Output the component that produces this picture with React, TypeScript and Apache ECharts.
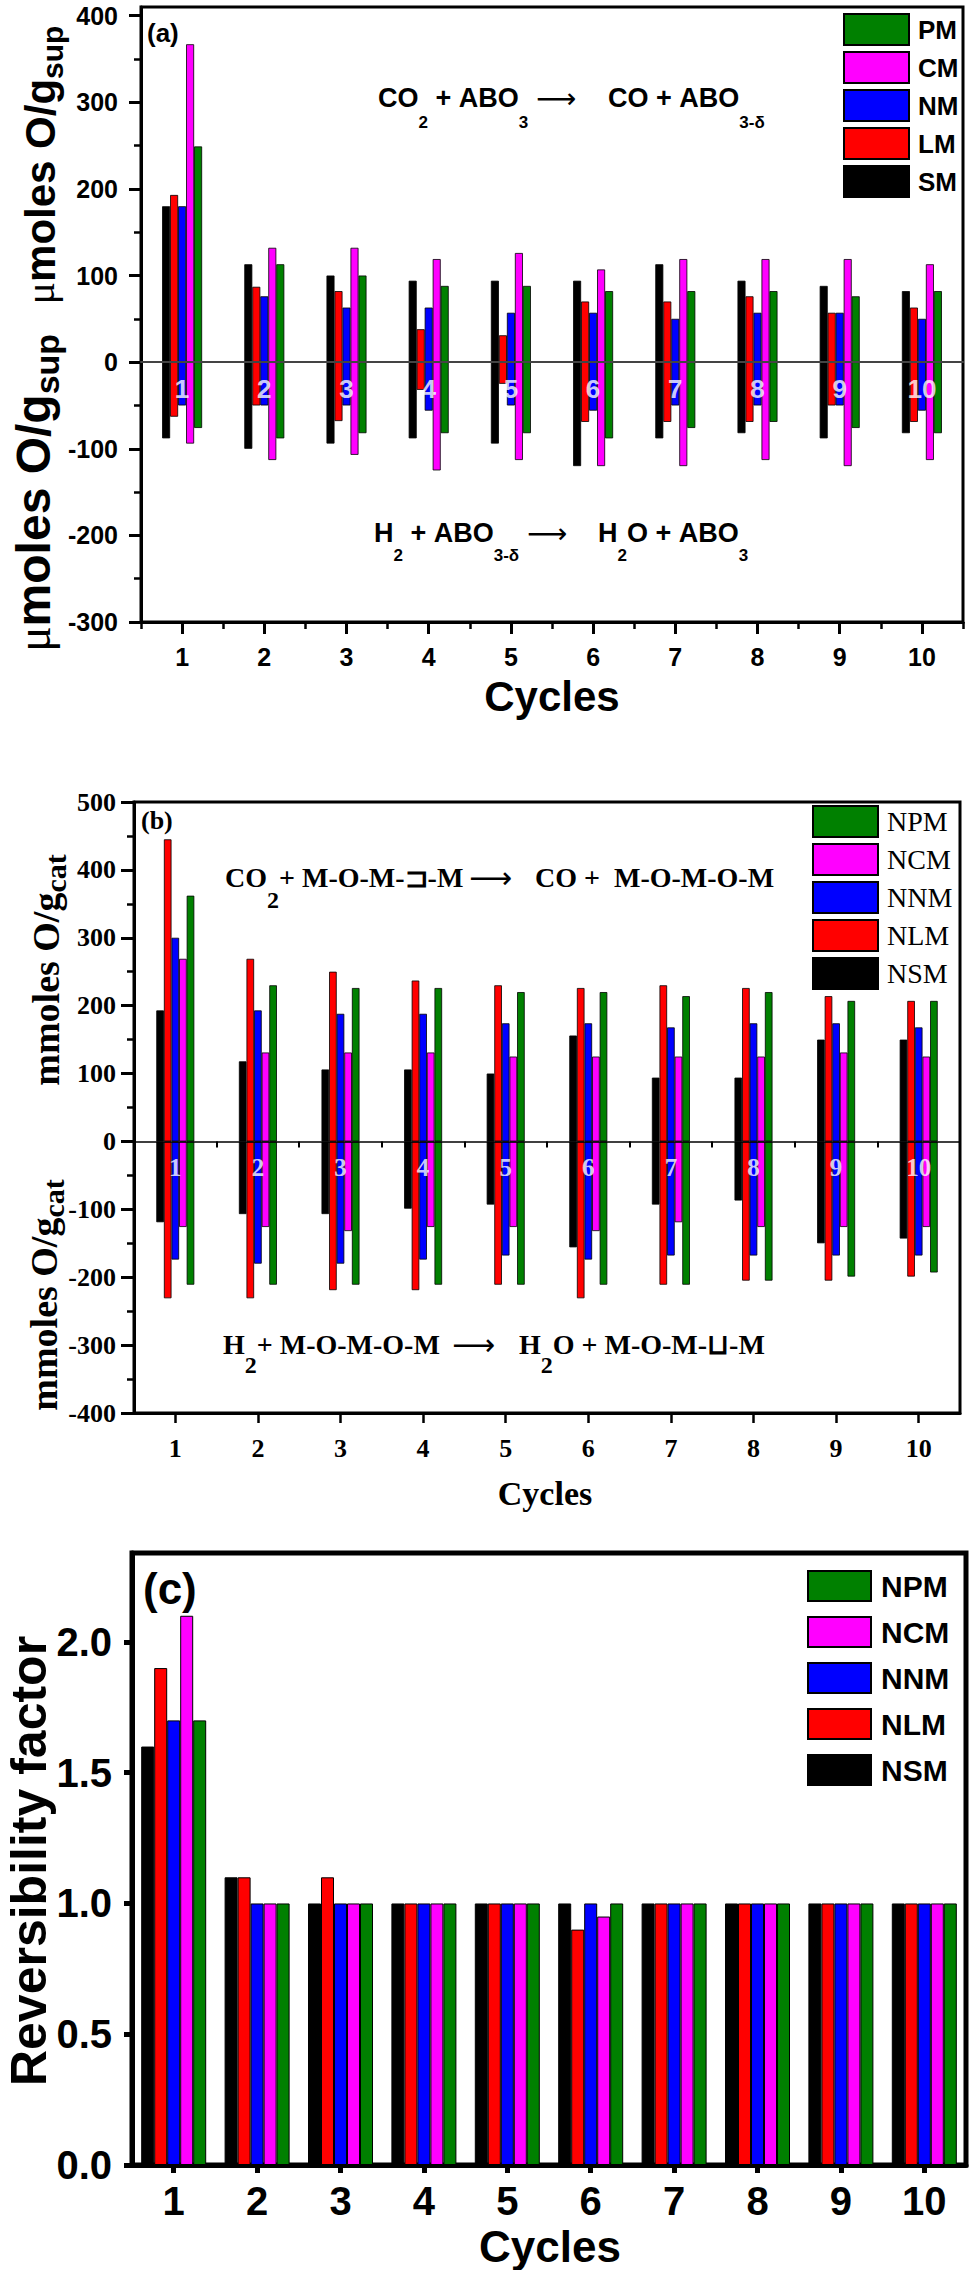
import React, { useEffect, useRef } from 'react';
import * as echarts from 'echarts';

const SANS = 'Liberation Sans, Arial, sans-serif';
const SERIF = 'Liberation Serif, Times New Roman, serif';
const NB = '\u00a0';

const cycles = ['1', '2', '3', '4', '5', '6', '7', '8', '9', '10'];
const colors = ['#000000', '#ff0000', '#0000ff', '#ff00ff', '#008000'];

// Panel (a): µmoles O/g sup, oxidation (CO2) positive, reduction (H2) negative
const aNames = ['SM', 'LM', 'NM', 'CM', 'PM'];
const aSMox = [180, 113, 100, 94, 94, 94, 113, 94, 88, 82];
const aLMox = [193, 87, 82, 38, 31, 70, 70, 76, 57, 63];
const aNMox = [180, 76, 63, 63, 57, 57, 50, 57, 57, 50];
const aCMox = [367, 132, 132, 119, 126, 107, 119, 119, 119, 113];
const aPMox = [249, 113, 100, 88, 88, 82, 82, 82, 76, 82];
const aSMred = [-88, -100, -94, -88, -94, -120, -88, -82, -88, -82];
const aLMred = [-63, -50, -68, -32, -25, -69, -69, -69, -50, -69];
const aNMred = [-50, -50, -50, -56, -50, -56, -50, -50, -50, -56];
const aCMred = [-94, -113, -107, -125, -113, -120, -120, -113, -120, -113];
const aPMred = [-76, -88, -82, -82, -82, -88, -76, -69, -76, -82];
const aTicks = [-300, -200, -100, 0, 100, 200, 300, 400];
const aMinorTicks = [-250, -150, -50, 50, 150, 250, 350];

// Panel (b): mmoles O/g cat
const bNames = ['NSM', 'NLM', 'NNM', 'NCM', 'NPM'];
const bNSMox = [193, 118, 106, 106, 100, 156, 94, 94, 150, 150];
const bNLMox = [445, 269, 250, 237, 230, 226, 230, 226, 214, 207];
const bNNMox = [300, 193, 188, 188, 174, 174, 168, 174, 174, 168];
const bNCMox = [269, 131, 131, 131, 125, 125, 125, 125, 131, 125];
const bNPMox = [362, 230, 226, 226, 220, 220, 214, 220, 207, 207];
const bNSMred = [-119, -107, -107, -99, -93, -156, -93, -87, -150, -143];
const bNLMred = [-231, -231, -219, -219, -211, -231, -211, -205, -205, -199];
const bNNMred = [-174, -180, -180, -174, -168, -174, -168, -168, -168, -168];
const bNCMred = [-126, -126, -132, -126, -126, -132, -119, -126, -126, -126];
const bNPMred = [-211, -211, -211, -211, -211, -211, -211, -205, -199, -193];

// Panel (c): reversibility factor
const cNSM = [1.6, 1.1, 1.0, 1.0, 1.0, 1.0, 1.0, 1.0, 1.0, 1.0];
const cNLM = [1.9, 1.1, 1.1, 1.0, 1.0, 0.9, 1.0, 1.0, 1.0, 1.0];
const cNNM = [1.7, 1.0, 1.0, 1.0, 1.0, 1.0, 1.0, 1.0, 1.0, 1.0];
const cNCM = [2.1, 1.0, 1.0, 1.0, 1.0, 0.95, 1.0, 1.0, 1.0, 1.0];
const cNPM = [1.7, 1.0, 1.0, 1.0, 1.0, 1.0, 1.0, 1.0, 1.0, 1.0];
const cTicks = [0, 0.5, 1.0, 1.5, 2.0];

const LABEL_Y_A = -31;
const LABEL_Y_B = -38;

function bar(name: string, color: string, data: number[], xi: number, yi: number, width: number, stack?: string, bw = 0.8) {
  return {
    type: 'bar',
    name,
    xAxisIndex: xi,
    yAxisIndex: yi,
    data,
    stack,
    barWidth: width,
    barGap: '0%',
    itemStyle: { color, borderColor: '#000', borderWidth: bw },
    z: 2,
  };
}

function numLabels(xi: number, yi: number, yv: number, font: string, size: number) {
  return {
    type: 'scatter',
    xAxisIndex: xi,
    yAxisIndex: yi,
    data: cycles.map((c) => [c, yv]),
    symbolSize: 1,
    itemStyle: { color: 'rgba(0,0,0,0)' },
    silent: true,
    z: 10,
    label: {
      show: true,
      position: 'inside',
      formatter: (p: any) => p.value[0],
      color: '#fff',
      fontSize: size,
      fontWeight: 'bold',
      fontFamily: font,
    },
  };
}

function richStyles(family: string, main: number, sub: number, offset: number, weight = 'bold') {
  return {
    m: { fontSize: main, fontFamily: family, fontWeight: weight, lineHeight: main, verticalAlign: 'top', color: '#000' },
    s: {
      fontSize: sub,
      fontFamily: family,
      fontWeight: weight,
      lineHeight: sub,
      verticalAlign: 'top',
      color: '#000',
      padding: [offset + main / 2 - sub / 2, 0, 0, 0],
    },
    u: { fontSize: main, fontFamily: SERIF, fontWeight: 'normal', lineHeight: main, verticalAlign: 'top', color: '#000' },
  };
}

function rtext(x: number, yCenter: number, text: string, family: string, main: number, sub: number, offset: number, weight = 'bold') {
  return {
    type: 'text',
    x,
    y: yCenter - main / 2,
    silent: true,
    style: { text, align: 'left', verticalAlign: 'top', rich: richStyles(family, main, sub, offset, weight) },
  };
}

function arrow(x: number, yCenter: number, size: number) {
  return {
    type: 'text',
    x,
    y: yCenter,
    silent: true,
    style: { text: '\u27f6', fontSize: size, fontFamily: 'DejaVu Sans', fill: '#000', align: 'left', verticalAlign: 'middle' },
  };
}

function plain(x: number, y: number, text: string, family: string, size: number, weight = 'bold', align = 'center', rotation = 0) {
  return {
    type: 'text',
    x,
    y,
    rotation,
    silent: true,
    style: { text, fontSize: size, fontFamily: family, fontWeight: weight, fill: '#000', align, verticalAlign: 'middle' },
  };
}

function vtitle(x: number, y: number, text: string, family: string, main: number, sub: number, offset: number) {
  return {
    type: 'text',
    x,
    y,
    rotation: Math.PI / 2,
    silent: true,
    style: { text, align: 'center', verticalAlign: 'middle', rich: richStyles(family, main, sub, offset) },
  };
}

function buildOption() {
  const aOx = [aSMox, aLMox, aNMox, aCMox, aPMox];
  const aRed = [aSMred, aLMred, aNMred, aCMred, aPMred];
  const bOx = [bNSMox, bNLMox, bNNMox, bNCMox, bNPMox];
  const bRed = [bNSMred, bNLMred, bNNMred, bNCMred, bNPMred];
  const cVals = [cNSM, cNLM, cNNM, cNCM, cNPM];

  const series: any[] = [];
  aNames.forEach((n, i) => {
    series.push(bar(n, colors[i], aOx[i], 0, 0, 8, 'a' + n));
    series.push(bar(n, colors[i], aRed[i], 0, 0, 8, 'a' + n));
  });
  bNames.forEach((n, i) => {
    series.push(bar(n, colors[i], bOx[i], 3, 2, 7.6, 'b' + n));
    series.push(bar(n, colors[i], bRed[i], 3, 2, 7.6, 'b' + n));
  });
  bNames.forEach((n, i) => {
    series.push(bar(n, colors[i], cVals[i], 5, 3, 13, undefined, 1));
  });
  series.push(numLabels(0, 0, LABEL_Y_A, SANS, 26));
  series.push(numLabels(3, 2, LABEL_Y_B, SERIF, 25));

  const black = '#000';
  const sansLbl = (size: number, margin: number) => ({ fontSize: size, fontWeight: 'bold', fontFamily: SANS, color: black, margin });
  const serifLbl = (size: number, margin: number) => ({ fontSize: size, fontWeight: 'bold', fontFamily: SERIF, color: black, margin });

  const xAxis: any[] = [
    // (a) main
    {
      type: 'category', gridIndex: 0, data: cycles, position: 'bottom',
      axisLine: { onZero: false, lineStyle: { color: black, width: 3 } },
      axisTick: { show: true, alignWithLabel: false, length: 7, lineStyle: { color: black, width: 2.5 } },
      axisLabel: sansLbl(25, 22),
    },
    // (a) major ticks at centres
    {
      type: 'category', gridIndex: 0, data: cycles, position: 'bottom',
      axisLine: { show: false, onZero: false },
      axisTick: { show: true, alignWithLabel: true, length: 12, lineStyle: { color: black, width: 3 } },
      axisLabel: { show: false },
    },
    // (a) zero line
    {
      type: 'category', gridIndex: 0, data: cycles, position: 'bottom', z: 5,
      axisLine: { onZero: true, lineStyle: { color: '#444', width: 2 } },
      axisTick: { show: false }, axisLabel: { show: false },
    },
    // (b) main
    {
      type: 'category', gridIndex: 1, data: cycles, position: 'bottom',
      axisLine: { onZero: false, lineStyle: { color: black, width: 3 } },
      axisTick: { show: true, alignWithLabel: true, length: 10, lineStyle: { color: black, width: 2.5 } },
      axisLabel: serifLbl(26, 22),
    },
    // (b) zero line with boundary ticks
    {
      type: 'category', gridIndex: 1, data: cycles, position: 'bottom', z: 5,
      axisLine: { onZero: true, lineStyle: { color: black, width: 1.5 } },
      axisTick: { show: true, alignWithLabel: false, length: 6, lineStyle: { color: black, width: 2 } },
      axisLabel: { show: false },
    },
    // (c) main
    {
      type: 'category', gridIndex: 2, data: cycles, position: 'bottom',
      axisLine: { onZero: false, lineStyle: { color: black, width: 5 } },
      axisTick: { show: true, alignWithLabel: true, length: 8, lineStyle: { color: black, width: 5 } },
      axisLabel: sansLbl(40, 16),
    },
  ];

  const yAxis: any[] = [
    {
      type: 'value', gridIndex: 0, min: -300, max: 410, interval: 100, position: 'left',
      axisLine: { show: true, onZero: false, lineStyle: { color: black, width: 3 } },
      axisTick: { show: true, length: 12, lineStyle: { color: black, width: 3 }, customValues: aTicks },
      axisLabel: { ...sansLbl(25, 23), customValues: aTicks },
      splitLine: { show: false },
    },
    {
      type: 'value', gridIndex: 0, min: -300, max: 410, interval: 100, position: 'left',
      axisLine: { show: false, onZero: false },
      axisTick: { show: true, length: 7, lineStyle: { color: black, width: 2.5 }, customValues: aMinorTicks },
      axisLabel: { show: false },
      splitLine: { show: false },
    },
    {
      type: 'value', gridIndex: 1, min: -400, max: 500, interval: 100, position: 'left',
      axisLine: { show: true, onZero: false, lineStyle: { color: black, width: 3 } },
      axisTick: { show: true, length: 13, lineStyle: { color: black, width: 3 } },
      minorTick: { show: true, splitNumber: 2, length: 7, lineStyle: { color: black, width: 2.5 } },
      axisLabel: serifLbl(26, 18),
      splitLine: { show: false }, minorSplitLine: { show: false },
    },
    {
      type: 'value', gridIndex: 2, min: 0, max: 2.34, interval: 0.5, position: 'left',
      axisLine: { show: true, onZero: false, lineStyle: { color: black, width: 5 } },
      axisTick: { show: true, length: 8, lineStyle: { color: black, width: 5 }, customValues: cTicks },
      axisLabel: { ...sansLbl(40, 20), customValues: cTicks, formatter: (v: number) => v.toFixed(1) },
      splitLine: { show: false },
    },
  ];

  const grid = [
    { left: 141, top: 7, width: 822, height: 615, show: true, borderColor: black, borderWidth: 3 },
    { left: 134, top: 802, width: 826, height: 611, show: true, borderColor: black, borderWidth: 3 },
    { left: 132, top: 1553, width: 834, height: 612, show: true, borderColor: black, borderWidth: 5 },
  ];

  const legendBase = { orient: 'vertical', icon: 'rect', selectedMode: false, padding: 0 };
  const legend = [
    {
      ...legendBase, left: 843, top: 13, itemWidth: 65, itemHeight: 31, itemGap: 5,
      data: ['PM', 'CM', 'NM', 'LM', 'SM'],
      textStyle: { fontSize: 26, fontWeight: 'bold', fontFamily: SANS, color: black, lineHeight: 31, padding: [0, 0, 0, 4] },
    },
    {
      ...legendBase, left: 812, top: 805, itemWidth: 65, itemHeight: 31, itemGap: 5,
      data: ['NPM', 'NCM', 'NNM', 'NLM', 'NSM'],
      textStyle: { fontSize: 28, fontWeight: 'normal', fontFamily: SERIF, color: black, lineHeight: 31, padding: [0, 0, 0, 4] },
    },
    {
      ...legendBase, left: 807, top: 1570, itemWidth: 63, itemHeight: 30, itemGap: 14,
      data: ['NPM', 'NCM', 'NNM', 'NLM', 'NSM'],
      textStyle: { fontSize: 30, fontWeight: 'bold', fontFamily: SANS, color: black, lineHeight: 30, padding: [0, 0, 0, 5] },
    },
  ];

  const graphic: any[] = [
    // panel labels
    plain(147, 33, '(a)', SANS, 26, 'bold', 'left'),
    plain(141, 820, '(b)', SERIF, 26, 'bold', 'left'),
    plain(143, 1588, '(c)', SANS, 44, 'bold', 'left'),
    // reactions (a)
    rtext(378, 98, `{m|CO}{s|2}{m|${NB}+${NB}ABO}{s|3}`, SANS, 27, 17, 24),
    arrow(536, 98, 28),
    rtext(608, 98, `{m|CO${NB}+${NB}ABO}{s|3-\u03b4}`, SANS, 27, 17, 24),
    rtext(374, 533, `{m|H}{s|2}{m|${NB}+${NB}ABO}{s|3-\u03b4}`, SANS, 27, 17, 22),
    arrow(527, 533, 28),
    rtext(598, 533, `{m|H}{s|2}{m|O${NB}+${NB}ABO}{s|3}`, SANS, 27, 17, 22),
    // reactions (b)
    rtext(225, 877, `{m|CO}{s|2}{m|+${NB}M-O-M-\u2290-M}`, SERIF, 28, 24, 23),
    arrow(469, 877, 30),
    rtext(535, 877, `{m|CO${NB}+${NB}${NB}M-O-M-O-M}`, SERIF, 28, 24, 23),
    rtext(223, 1344, `{m|H}{s|2}{m|+${NB}M-O-M-O-M}`, SERIF, 28, 24, 21),
    arrow(452, 1344, 30),
    rtext(519, 1344, `{m|H}{s|2}{m|O${NB}+${NB}M-O-M-\u2294-M}`, SERIF, 28, 24, 21),
    // axis titles
    vtitle(40, 165, `{u|\u03bc}{m|moles${NB}O/g}{s|sup}`, SANS, 42, 30, 12),
    vtitle(33, 493, `{u|\u03bc}{m|moles${NB}O/g}{s|sup}`, SANS, 48, 34, 14),
    vtitle(46, 970, `{m|mmoles${NB}O/g}{s|cat}`, SERIF, 38, 30, 9),
    vtitle(44, 1295, `{m|mmoles${NB}O/g}{s|cat}`, SERIF, 38, 30, 9),
    plain(29, 1861, 'Reversibility factor', SANS, 50, 'bold', 'center', Math.PI / 2),
    plain(552, 696, 'Cycles', SANS, 42),
    plain(545, 1493, 'Cycles', SERIF, 34),
    plain(550, 2246, 'Cycles', SANS, 44),
  ];

  return {
    animation: false,
    backgroundColor: '#ffffff',
    grid,
    xAxis,
    yAxis,
    legend,
    series,
    graphic,
  };
}

export default function App() {
  const ref = useRef<HTMLDivElement>(null);
  useEffect(() => {
    if (!ref.current) return;
    const chart = echarts.init(ref.current, undefined, { renderer: 'svg' });
    chart.setOption(buildOption() as any);
    return () => chart.dispose();
  }, []);
  return (
    <div
      ref={ref}
      style={{ position: 'absolute', left: 0, top: 0, width: 970, height: 2270, background: '#fff' }}
    />
  );
}
